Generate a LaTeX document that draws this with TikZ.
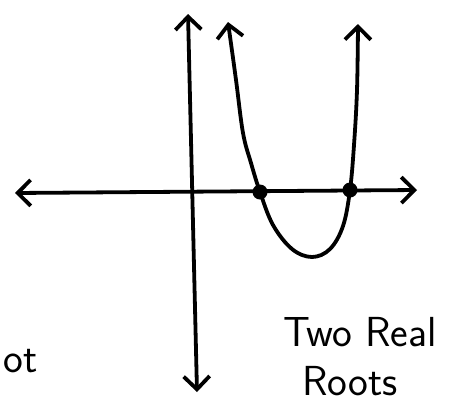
\documentclass[tikz,border=0pt]{standalone}
\usepackage{tikz}
\usetikzlibrary{arrows.meta}
\tikzset{
    pen/.style={line width=3.8pt, line cap=round, line join=round,
        arrows={Straight Barb[length=13pt,width=26pt,line width=3.8pt]-Straight Barb[length=13pt,width=26pt,line width=3.8pt]}},
    root/.style={circle, fill=black, inner sep=0pt, minimum size=15pt},
    note/.style={font=\fontsize{42}{46}\selectfont\sffamily, anchor=base, inner sep=0pt}
}

\begin{document}
\begin{tikzpicture}[x=1pt,y=-1pt]
        \useasboundingbox (0,0) rectangle (449,405);
        % Axes
        \coordinate (xl) at (15,193);
        \coordinate (xr) at (417,190);
        \coordinate (yt) at (188,14);
        \coordinate (yb) at (197,392);
        \draw[pen] (xl) -- (xr);
        \draw[pen] (yt) -- (yb);

        % Parabole
        \draw[pen] plot[smooth, tension=0.6] coordinates {(228,22) (236,80) (243,133) (251,163) (260,192) (273,225) (292,249) (312,257) (330,249) (343,226) (350,190) (354,145) (357,90) (358,24)};

        % Racines
        \node[root] (r1) at (260,192) {};
        \node[root] (r2) at (350,190) {};

        % Textes
        \node[note] (two) at (360,346) {Two Real};
        \node[note] (roots) at (350,395) {Roots};
        \node[note, anchor=base east] (cut) at (38,372) {ot};
\end{tikzpicture}
\end{document}
